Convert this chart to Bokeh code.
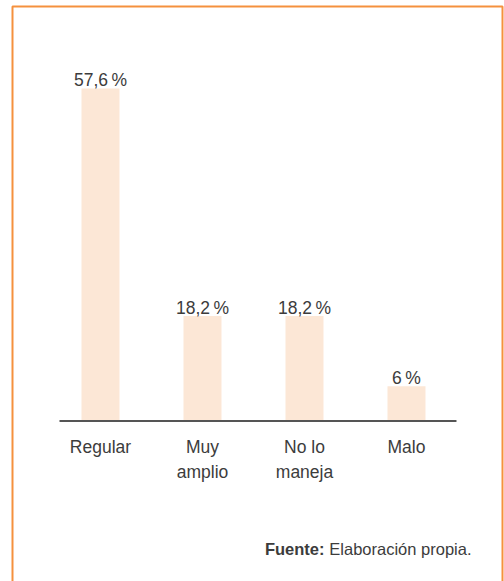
from bokeh.plotting import figure
from bokeh.models import Range1d, BoxAnnotation, ColumnDataSource
from bokeh.core.properties import value
from bokeh.embed import file_html
from bokeh.resources import INLINE

categories = ["Regular", "Muy\namplio", "No lo\nmaneja", "Malo"]
values = [57.6, 18.2, 18.2, 6.0]
source_bold = "Fuente:"
source_text = "Elaboración propia."

FONT = value("Liberation Sans")
TEXT_COLOR = "#3c3c3c"
BAR_COLOR = "#FCE7D6"
FRAME_COLOR = "#F5913E"

n = len(categories)
xs = list(range(n))
value_labels = [(f"{v:g}".replace(".", ",")) + "\u2009%" for v in values]
line1 = [c.split("\n")[0] for c in categories]
line2 = [c.split("\n")[1] if "\n" in c else "" for c in categories]

x_range = Range1d(-0.98039, 3.96078)
y_range = Range1d(-27.804, 72.843)
FRAME_LEFT, FRAME_RIGHT, FRAME_TOP, FRAME_BOTTOM = -0.86275, 3.94118, 71.805, -40

p = figure(width=504, height=581, x_range=x_range, y_range=y_range,
           output_backend="svg", toolbar_location=None,
           min_border_left=0, min_border_right=0, min_border_top=0, min_border_bottom=0)
p.axis.visible = False
p.grid.visible = False
p.outline_line_color = None
p.background_fill_color = "white"
p.border_fill_color = "white"

src = ColumnDataSource(dict(x=xs, top=values, lab=value_labels, l1=line1, l2=line2))

p.vbar(x="x", top="top", bottom=0, width=0.3725, source=src,
       fill_color=BAR_COLOR, line_color=None)

# baseline
p.segment(x0=[-0.402], y0=[0], x1=[n - 1 + 0.49], y1=[0], line_color="#555555", line_width=2)

p.text(x="x", y="top", text="lab", source=src, text_align="center",
       text_baseline="alphabetic", y_offset=-8, text_font=FONT,
       text_font_size="17.5px", text_color=TEXT_COLOR)
p.text(x="x", y=0, text="l1", source=src, text_align="center",
       text_baseline="alphabetic", y_offset=26, text_font=FONT,
       text_font_size="17.5px", text_color=TEXT_COLOR)
p.text(x="x", y=0, text="l2", source=src, text_align="center",
       text_baseline="alphabetic", y_offset=51, text_font=FONT,
       text_font_size="17.5px", text_color=TEXT_COLOR)

# source note
p.text(x=[FRAME_RIGHT], y=[0], text=[source_text], text_align="right",
       text_baseline="alphabetic", x_offset=-31, y_offset=128, text_font=FONT,
       text_font_size="16.5px", text_color=TEXT_COLOR)
p.text(x=[FRAME_RIGHT], y=[0], text=[source_bold], text_align="right",
       text_baseline="alphabetic", x_offset=-178, y_offset=128, text_font=FONT,
       text_font_size="16.5px", text_font_style="bold", text_color=TEXT_COLOR)

# orange frame
p.add_layout(BoxAnnotation(left=FRAME_LEFT, right=FRAME_RIGHT, top=FRAME_TOP,
                           bottom=FRAME_BOTTOM, fill_color=None, fill_alpha=0,
                           line_color=FRAME_COLOR, line_width=2, line_alpha=1))

open("out.html", "w").write(file_html(p, INLINE))
